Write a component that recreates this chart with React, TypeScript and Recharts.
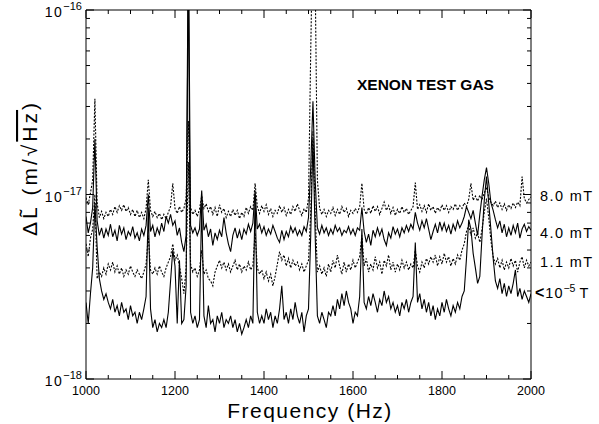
import React from 'react';
import { LineChart, Line, XAxis, YAxis } from 'recharts';

// Frequency grid (Hz)
const FREQ_START = 1000;
const FREQ_STEP = 5;

// Spectral densities in units of 1e-18 m/sqrt(Hz)
const SERIES_8MT = [
  9.6, 8.8, 10.2, 12, 33, 9.0, 7.5, 8.1, 7.4, 8.0,
  7.6, 8.3, 7.8, 8.6, 8.0, 8.7, 8.2, 8.8, 8.1, 8.5,
  7.8, 8.3, 7.6, 8.2, 7.5, 8.0, 7.4, 8.4, 12, 8.2,
  7.6, 8.1, 7.5, 7.9, 7.3, 7.8, 7.4, 8.0, 8.6, 11.5,
  8.4, 7.9, 8.6, 8.0, 8.4, 9.5, 25, 8.5, 7.8, 8.2,
  7.6, 8.3, 9.8, 8.4, 8.9, 8.1, 8.6, 7.8, 8.5, 7.6,
  8.8, 8.0, 8.4, 7.5, 8.1, 7.6, 8.3, 7.7, 8.2, 7.4,
  8.0, 7.6, 8.5, 7.9, 8.6, 8.2, 11.5, 8.6, 7.9, 8.7,
  8.1, 8.8, 7.8, 8.4, 7.6, 8.2, 7.9, 8.7, 8.0, 8.5,
  7.7, 8.3, 7.8, 8.6, 8.1, 8.9, 8.2, 7.7, 8.4, 8.0,
  9.5, 60, 300, 150, 12, 8.4, 7.8, 8.3, 7.6, 8.2,
  7.9, 8.5, 7.7, 8.3, 7.8, 8.6, 8.0, 8.4, 7.6, 8.2,
  7.9, 8.4, 8.0, 8.6, 11.5, 8.3, 7.8, 8.5, 7.9, 8.7,
  8.1, 8.6, 7.8, 8.4, 9.1, 8.2, 8.7, 7.9, 8.5, 7.7,
  8.3, 7.9, 8.6, 8.0, 8.4, 7.8, 8.2, 8.6, 11.6, 8.3,
  8.8, 8.1, 8.7, 8.0, 8.9, 8.2, 8.6, 7.9, 8.5, 8.1,
  8.8, 8.2, 8.7, 8.0, 8.6, 8.3, 8.9, 8.2, 8.7, 8.4,
  9.0, 8.6, 9.4, 11.5, 9.3, 9.8, 9.2, 9.9, 9.4, 10.2,
  11.0, 9.6, 9.1, 8.7, 9.2, 8.5, 9.0, 8.3, 8.9, 8.2,
  8.8, 8.4, 9.0, 8.5, 9.1, 8.7, 12.5, 9.5, 9.0, 9.4,
  9.7,
];

const SERIES_4MT = [
  7.6, 6.2, 7.0, 8.5, 20, 7.2, 6.0, 6.6, 5.8, 6.5,
  6.0, 6.9, 5.9, 6.4, 5.6, 6.8, 6.1, 6.6, 5.7, 6.3,
  6.0, 6.7, 5.8, 6.2, 5.6, 6.5, 6.0, 6.8, 10, 6.3,
  6.8, 5.9, 6.6, 6.1, 7.0, 6.3, 7.6, 7.0, 7.8, 6.8,
  7.2, 6.0, 6.6, 5.5, 4.9, 6.0, 250, 6.8, 6.2, 6.6,
  6.0, 6.5, 10.5, 6.4, 6.9, 5.9, 6.5, 5.3, 6.2, 5.7,
  6.4, 5.9, 7.5, 6.2, 5.4, 4.9, 6.0, 6.6, 5.8, 6.4,
  5.7, 6.5, 6.1, 6.9, 6.3, 7.0, 10.5, 6.5, 6.9, 6.2,
  6.7, 6.0, 6.5, 6.1, 6.8, 6.3, 5.8, 5.5, 6.4, 5.7,
  6.3, 5.9, 6.7, 6.2, 6.6, 6.0, 6.4, 6.0, 6.7, 6.3,
  7.5, 14, 32, 12, 6.6, 6.1, 6.8, 6.2, 6.6, 6.0,
  6.5, 6.1, 6.8, 6.3, 6.6, 6.0, 6.4, 6.2, 6.7, 6.1,
  6.5, 6.0, 6.6, 6.4, 8.5, 6.3, 5.5, 6.1, 5.3, 6.4,
  5.9, 6.6, 6.0, 6.5, 5.7, 5.3, 6.2, 5.8, 6.7, 6.1,
  6.5, 5.9, 6.6, 6.2, 6.8, 6.3, 6.9, 6.5, 8.0, 7.0,
  6.4, 7.2, 6.6, 7.4, 6.5, 5.7, 6.3, 6.9, 6.2, 7.1,
  6.4, 7.0, 6.3, 6.8, 6.1, 6.9, 6.4, 7.2, 6.6, 7.0,
  7.6, 8.6, 8.0, 7.4, 8.2, 7.0, 6.0, 7.8, 9.8, 12.0,
  14.0, 11.5, 9.0, 8.2, 7.3, 6.6, 7.2, 6.2, 6.9, 5.9,
  6.6, 6.0, 6.8, 6.2, 7.0, 5.8, 6.5, 6.9, 6.3, 6.7,
  6.4,
];

const SERIES_1MT = [
  5.4, 4.6, 5.8, 6.5, 10, 3.5, 3.8, 3.6, 4.0, 3.7,
  4.2, 3.9, 4.3, 3.8, 4.1, 3.7, 4.0, 3.6, 3.9, 3.7,
  4.1, 3.8, 3.6, 3.9, 3.7, 3.5, 3.8, 4.2, 6.0, 3.9,
  3.7, 4.0, 3.7, 4.1, 3.8, 3.6, 4.0, 4.3, 4.6, 5.4,
  4.4, 4.7, 4.1, 3.5, 2.9, 4.0, 15, 4.2, 3.8, 4.0,
  3.6, 3.9, 5.0, 3.7, 3.9, 3.5, 3.4, 3.2, 3.8, 4.1,
  4.4, 4.0, 4.3, 3.9, 4.2, 3.8, 4.1, 4.4, 3.9, 4.2,
  3.8, 4.1, 3.9, 4.3, 3.9, 4.1, 6.2, 4.0, 3.7, 3.9,
  3.5, 3.8, 3.4, 3.7, 3.2, 3.6, 4.2, 4.9, 4.4, 4.7,
  4.1, 4.5, 4.0, 4.4, 4.1, 4.3, 3.9, 4.2, 3.8, 4.1,
  4.4, 8, 22, 8, 3.8, 4.1, 3.7, 4.0, 3.6, 4.2,
  3.8, 4.4, 4.0, 4.7, 4.1, 3.7, 4.3, 3.8, 4.2, 3.9,
  4.4, 4.0, 4.3, 4.6, 6.0, 4.1, 4.5, 3.8, 4.2, 3.9,
  4.6, 4.0, 4.3, 3.7, 4.4, 4.1, 4.7, 3.9, 4.3, 3.8,
  4.2, 3.9, 4.4, 4.0, 4.3, 3.9, 4.2, 4.0, 5.0, 4.1,
  3.8, 4.3, 4.0, 4.5, 4.2, 4.6, 4.3, 4.7, 4.1, 4.6,
  4.2, 4.8, 4.3, 4.6, 4.1, 4.5, 4.2, 4.7, 4.4, 5.0,
  5.4, 6.3, 6.8, 6.0, 6.6, 5.8, 6.2, 5.5, 6.5, 8.0,
  9.5, 7.5, 5.6, 4.6, 4.2, 4.5, 4.0, 4.4, 3.9, 4.3,
  4.0, 4.5, 4.1, 4.4, 3.8, 4.3, 4.6, 4.0, 4.4, 4.1,
  4.3,
];

const SERIES_LOW = [
  2.6, 2.0, 2.9, 4.0, 9.0, 5.2, 3.5, 3.0, 2.7, 2.9,
  2.6, 2.4, 2.7, 2.3, 2.5, 2.2, 2.6, 2.3, 2.4, 2.1,
  2.5, 2.2, 2.3, 2.0, 2.3, 2.1, 2.4, 2.8, 8.5, 2.4,
  1.9, 2.1, 1.8, 2.0, 1.9, 2.1, 1.9, 2.3, 3.4, 5.0,
  4.1, 2.0, 4.4, 2.0, 2.1, 3.2, 200, 2.3, 2.0, 2.2,
  1.9, 2.1, 9.0, 2.2, 1.9, 2.5, 2.0, 2.1, 1.8, 2.2,
  2.0, 2.3, 1.9, 2.1, 2.0, 2.2, 1.9, 2.1, 1.8, 2.0,
  1.75, 1.9, 2.1, 1.9, 2.2, 2.0, 10, 2.3, 2.0, 2.2,
  2.0, 2.4, 2.1, 2.3, 1.9, 2.2, 2.0, 2.4, 3.2, 2.1,
  2.3, 2.0, 2.4, 2.1, 2.6, 2.2, 2.0, 2.3, 1.8, 2.2,
  2.4, 6, 20, 6, 2.2, 2.0, 2.3, 2.1, 1.9, 2.3,
  2.2, 2.5, 2.2, 2.7, 2.4, 2.9, 2.5, 3.0, 2.6, 2.4,
  2.0, 2.3, 2.2, 2.8, 6.5, 2.6, 2.4, 2.8, 2.5, 2.9,
  2.6, 2.3, 2.7, 2.5, 3.0, 2.6, 2.8, 2.4, 2.6, 2.3,
  2.5, 2.2, 2.6, 2.4, 2.7, 2.3, 2.6, 2.8, 5.5, 2.6,
  2.9, 2.4, 2.7, 2.3, 2.6, 2.2, 2.5, 2.1, 2.4, 2.2,
  2.6, 2.3, 2.7, 2.4, 2.2, 2.5, 2.3, 2.6, 2.4, 2.8,
  3.0, 4.5, 7.3, 6.5, 4.8, 4.0, 3.3, 3.6, 6.0, 9.3,
  12.5, 9.0, 6.4, 4.5, 3.4, 3.1, 3.5, 2.9, 3.3, 2.8,
  3.2, 2.9, 3.3, 3.9, 2.8, 3.1, 2.7, 3.0, 2.8, 2.6,
  2.9,
];

const X_TICKS = [
  1000, 1050, 1100, 1150, 1200, 1250, 1300, 1350, 1400, 1450, 1500,
  1550, 1600, 1650, 1700, 1750, 1800, 1850, 1900, 1950, 2000,
];
const X_LABELS = [1000, 1200, 1400, 1600, 1800, 2000];
const Y_TICKS = [1, 2, 3, 4, 5, 6, 7, 8, 9, 10, 20, 30, 40, 50, 60, 70, 80, 90, 100];
const Y_MAJOR = [1, 10, 100];
const Y_EXPONENTS: Record<number, string> = { 1: '\u221218', 10: '\u221217', 100: '\u221216' };

const CURVE_LABELS = ['8.0 mT', '4.0 mT', '1.1 mT'];

const DATA = SERIES_8MT.map((v, i) => ({
  f: FREQ_START + i * FREQ_STEP,
  a: v,
  b: SERIES_4MT[i],
  c: SERIES_1MT[i],
  d: SERIES_LOW[i],
}));

// Layout (plot frame in page pixels)
const W = 599;
const H = 424;
const PL = 86;
const PR = 531;
const PT = 10;
const PB = 379;
const Y_AXIS_W = 40;
const X_AXIS_H = 20;
const TOP_AXIS_H = 6;
const RIGHT_AXIS_W = 6;
const FONT = '"Liberation Sans", Arial, Helvetica, sans-serif';

function BottomTick(props: any) {
  const { x, payload } = props;
  const v = payload.value;
  const major = X_LABELS.includes(v);
  return (
    <g>
      <line x1={x} x2={x} y1={PB} y2={PB - (major ? 8 : 4)} stroke="#000" strokeWidth={1} />
      {major && (
        <text x={x} y={395} textAnchor="middle" fontSize={12.5} fill="#000" fontFamily={FONT}>
          {v}
        </text>
      )}
    </g>
  );
}

function TopTick(props: any) {
  const { x, payload } = props;
  const major = X_LABELS.includes(payload.value);
  return <line x1={x} x2={x} y1={PT} y2={PT + (major ? 8 : 4)} stroke="#000" strokeWidth={1} />;
}

function LeftTick(props: any) {
  const { y, payload } = props;
  const v = payload.value;
  const major = Y_MAJOR.includes(v);
  return (
    <g>
      <line x1={PL} x2={PL + (major ? 8 : 4)} y1={y} y2={y} stroke="#000" strokeWidth={1} />
      {major && (
        <text x={PL - 4} y={y + 7} textAnchor="end" fontSize={14} fill="#000" fontFamily={FONT}>
          <tspan letterSpacing={1.5}>10</tspan>
          <tspan dy={-7} fontSize={11}>{Y_EXPONENTS[v]}</tspan>
        </text>
      )}
    </g>
  );
}

function RightTick(props: any) {
  const { y, payload } = props;
  const major = Y_MAJOR.includes(payload.value);
  return <line x1={PR} x2={PR - (major ? 8 : 4)} y1={y} y2={y} stroke="#000" strokeWidth={1} />;
}

export default function App() {
  return (
    <div style={{ position: 'absolute', left: 0, top: 0, width: W, height: H, background: '#fff', fontFamily: FONT }}>
      <LineChart
        width={W}
        height={H}
        data={DATA}
        margin={{
          top: PT - TOP_AXIS_H,
          right: W - PR - RIGHT_AXIS_W,
          bottom: H - PB - X_AXIS_H,
          left: PL - Y_AXIS_W,
        }}
      >
        <XAxis
          xAxisId="b"
          dataKey="f"
          type="number"
          domain={[1000, 2000]}
          ticks={X_TICKS}
          interval={0}
          height={X_AXIS_H}
          tickLine={false}
          axisLine={{ stroke: '#000', strokeWidth: 1 }}
          tick={(p: any) => <BottomTick {...p} />}
          allowDataOverflow
        />
        <XAxis
          xAxisId="t"
          orientation="top"
          dataKey="f"
          type="number"
          domain={[1000, 2000]}
          ticks={X_TICKS}
          interval={0}
          height={TOP_AXIS_H}
          tickLine={false}
          axisLine={{ stroke: '#000', strokeWidth: 1 }}
          tick={(p: any) => <TopTick {...p} />}
          allowDataOverflow
        />
        <YAxis
          yAxisId="l"
          type="number"
          scale="log"
          domain={[1, 100]}
          ticks={Y_TICKS}
          interval={0}
          width={Y_AXIS_W}
          tickLine={false}
          axisLine={{ stroke: '#000', strokeWidth: 1 }}
          tick={(p: any) => <LeftTick {...p} />}
          allowDataOverflow
        />
        <YAxis
          yAxisId="r"
          orientation="right"
          type="number"
          scale="log"
          domain={[1, 100]}
          ticks={Y_TICKS}
          interval={0}
          width={RIGHT_AXIS_W}
          tickLine={false}
          axisLine={{ stroke: '#000', strokeWidth: 1 }}
          tick={(p: any) => <RightTick {...p} />}
          allowDataOverflow
        />
        <Line xAxisId="b" yAxisId="l" type="linear" dataKey="a" stroke="#000" strokeWidth={1.1} strokeDasharray="2 1.5" dot={false} isAnimationActive={false} />
        <Line xAxisId="b" yAxisId="l" type="linear" dataKey="c" stroke="#000" strokeWidth={1.1} strokeDasharray="2 1.5" dot={false} isAnimationActive={false} />
        <Line xAxisId="b" yAxisId="l" type="linear" dataKey="b" stroke="#000" strokeWidth={1.1} dot={false} isAnimationActive={false} />
        <Line xAxisId="b" yAxisId="l" type="linear" dataKey="d" stroke="#000" strokeWidth={1.1} dot={false} isAnimationActive={false} />
      </LineChart>
      <svg
        width={W}
        height={H}
        style={{ position: 'absolute', left: 0, top: 0, pointerEvents: 'none' }}
        fontFamily={FONT}
      >
        <text x={357} y={90} fontSize={15.5} fontWeight="bold" fill="#000">XENON TEST GAS</text>
        <text x={310} y={418} textAnchor="middle" fontSize={21} letterSpacing={1.5} fill="#000">
          Frequency (Hz)
        </text>
        <text
          transform="translate(37,168) rotate(-90)"
          textAnchor="middle"
          fontSize={21}
          letterSpacing={3}
          fill="#000"
        >
          {'\u0394L\u0303 (m/\u221A'}
          <tspan textDecoration="overline">Hz</tspan>
          {')'}
        </text>
        <text x={540} y={201} fontSize={14.5} letterSpacing={1.4} fill="#000">{CURVE_LABELS[0]}</text>
        <text x={540} y={238} fontSize={14.5} letterSpacing={1.4} fill="#000">{CURVE_LABELS[1]}</text>
        <text x={540} y={267} fontSize={14.5} letterSpacing={1.4} fill="#000">{CURVE_LABELS[2]}</text>
        <text x={535} y={298} fontSize={14.5} fill="#000">
          <tspan fontWeight="bold" fontSize={16}>{'<'}</tspan>
          <tspan dx={1} letterSpacing={1}>10</tspan>
          <tspan dy={-6} fontSize={10.5}>{'\u22125'}</tspan>
          <tspan dy={6} dx={4}>T</tspan>
        </text>
      </svg>
    </div>
  );
}
